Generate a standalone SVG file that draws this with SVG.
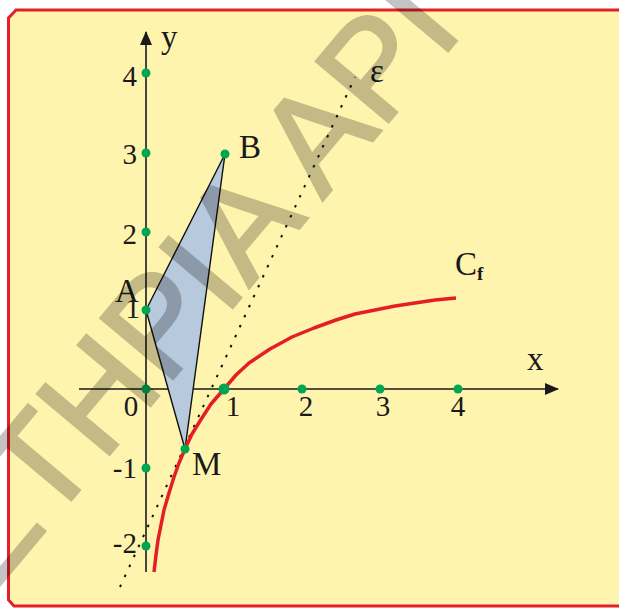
<svg xmlns="http://www.w3.org/2000/svg" width="619" height="608" viewBox="0 0 619 608">
<style>
.axis{stroke:#1a1a1a;stroke-width:1.6;fill:none}
.pt{fill:#00a552}
.num{font-family:"Liberation Serif","Times New Roman",serif;font-size:29px;fill:#1a1a1a}
.lbl{font-family:"Liberation Serif","Times New Roman",serif;font-size:33px;fill:#1a1a1a}
.wm{font-family:"Liberation Sans",Arial,sans-serif;font-size:137px;fill:#000;stroke:#000;stroke-width:3;stroke-linejoin:miter}
</style>
<defs>
<marker id="arr" viewBox="0 0 14 12" refX="13" refY="6" markerWidth="14" markerHeight="12" markerUnits="userSpaceOnUse" orient="auto">
<path d="M0,0 L14,6 L0,12 Z" fill="#1a1a1a"/>
</marker>
</defs>
<rect width="619" height="608" fill="#ffffff"/>
<g id="frame">
<path d="M8.5,18 L16,10 H625 V606 H14 L8.5,600 Z" fill="#fff4ae" stroke="#e3202a" stroke-width="3"/>
</g>
<g id="axes">
<line class="axis" x1="79" y1="389" x2="558" y2="389" marker-end="url(#arr)"/>
<line class="axis" x1="146" y1="572" x2="146" y2="32" marker-end="url(#arr)"/>
</g>
<g id="triangle">
<polygon points="146,310 225,154 185,449" fill="#b7c9dc" stroke="#111" stroke-width="1.4" stroke-linejoin="round"/>
</g>
<g id="connectors">
<line id="tangent" x1="120" y1="587" x2="355" y2="77" stroke="#111" stroke-width="2" stroke-dasharray="2.5 8.5"/>
<polyline id="curve" points="154,572 156,555 158,540 161,525 164,510 169,493 174,477 179,463 185,449 192,434 200,421 211,404 224,389 236,375 249,363 270,349 292,337 314,328 336,320 355,314 375,310 395,306 415,303 435,300 456,298" fill="none" stroke="#e51e25" stroke-width="3.5" stroke-linejoin="round"/>
</g>
<g id="points">
<circle class="pt" cx="146" cy="73" r="4.5"/>
<circle class="pt" cx="146" cy="153" r="4.5"/>
<circle class="pt" cx="146" cy="232" r="4.5"/>
<circle class="pt" cx="146" cy="310" r="4.5"/>
<circle class="pt" cx="146" cy="389" r="4.5"/>
<circle class="pt" cx="146" cy="468" r="4.5"/>
<circle class="pt" cx="146" cy="546" r="4.5"/>
<circle class="pt" cx="224" cy="389" r="5.5"/>
<circle class="pt" cx="302" cy="389" r="4.5"/>
<circle class="pt" cx="380" cy="389" r="4.5"/>
<circle class="pt" cx="458" cy="389" r="4.5"/>
<circle class="pt" cx="225" cy="154" r="4.5"/>
<circle class="pt" cx="185" cy="449" r="4.5"/>
</g>
<g id="ticklabels">
<text class="num" x="137" y="86" text-anchor="end">4</text>
<text class="num" x="137" y="164" text-anchor="end">3</text>
<text class="num" x="137" y="244" text-anchor="end">2</text>
<text class="num" x="140" y="318" text-anchor="end">1</text>
<text class="num" x="137" y="478" text-anchor="end">-1</text>
<text class="num" x="137" y="553" text-anchor="end">-2</text>
<text class="num" x="131" y="416" text-anchor="middle">0</text>
<text class="num" x="233" y="416" text-anchor="middle">1</text>
<text class="num" x="306" y="416" text-anchor="middle">2</text>
<text class="num" x="383" y="416" text-anchor="middle">3</text>
<text class="num" x="458" y="416" text-anchor="middle">4</text>
</g>
<g id="labels">
<text class="lbl" x="161" y="48">y</text>
<text class="lbl" x="527" y="370">x</text>
<text class="lbl" x="239" y="158">B</text>
<text class="lbl" x="115" y="302">A</text>
<text class="lbl" x="192" y="475">M</text>
<text class="lbl" x="370" y="82">ε</text>
<text class="lbl" x="455" y="275">C<tspan font-size="19" font-weight="bold" dy="5">f</tspan></text>
</g>
<g id="watermark" opacity="0.23">
<text class="wm" transform="translate(-6,592) rotate(-50)">ΣΤΗΡΙΑ ΑΡΙ</text>
</g>
</svg>
